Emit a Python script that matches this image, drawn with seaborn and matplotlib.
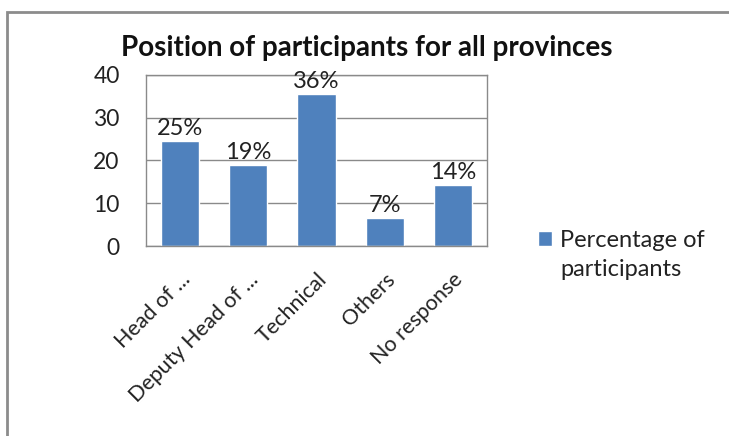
import pandas as pd
import matplotlib.pyplot as plt
import matplotlib.transforms as mtransforms
import seaborn as sns
from matplotlib.patches import Rectangle

# values
positions = ['Head of ...', 'Deputy Head of ...', 'Technical', 'Others', 'No response']
percentages = [24.5, 18.9, 35.5, 6.6, 14.2]
bar_labels = ['25%', '19%', '36%', '7%', '14%']
series_name = ['Percentage of', 'participants']

df = pd.DataFrame({'Position': positions, 'Percent': percentages})

sns.set_style('white')
plt.rcParams['font.family'] = ['Lato', 'DejaVu Sans']

fig = plt.figure(figsize=(7.29, 4.36), dpi=100)
ax = fig.add_axes([146 / 729, 190 / 436, 341 / 729, 171 / 436])

# outer frame of the chart object
fig.patches.append(Rectangle((7 / 729, -0.1), 1.2, (436 - 12) / 436 + 0.1,
                             transform=fig.transFigure, fill=False,
                             edgecolor='#8c8c8c', linewidth=2))

sns.barplot(data=df, x='Position', y='Percent', color='#4F81BD',
            width=0.56, saturation=1, ax=ax, label=series_name[0])

ax.set_ylim(0, 40)
ax.set_yticks([0, 10, 20, 30, 40])
ax.yaxis.grid(True, color='#8a8a8a', linewidth=1)
ax.set_axisbelow(True)
for s in ax.spines.values():
    s.set_color('#8a8a8a')
    s.set_linewidth(1)
ax.set_xlabel('')
ax.set_ylabel('')
ax.tick_params(axis='y', length=0, pad=19, labelsize=16.5, labelcolor='#222222')
ax.tick_params(axis='x', length=0, pad=8, labelsize=15.5, labelcolor='#222222')
shift = mtransforms.ScaledTranslation(0.0, -0.12, fig.dpi_scale_trans)
for t in ax.get_xticklabels():
    t.set_rotation(45)
    t.set_ha('right')
    t.set_rotation_mode('anchor')
    t.set_transform(t.get_transform() + shift)

for i, (v, lab) in enumerate(zip(percentages, bar_labels)):
    ax.text(i, v + 1.4, lab, ha='center', va='baseline', fontsize=17, color='#222222')

fig.text(367 / 729, 1 - 48 / 436, 'Position of participants for all provinces',
         ha='center', va='center', fontsize=20, fontweight='bold', color='#111111')

ax.legend(loc='center left', bbox_to_anchor=(538 / 729, 1 - 240 / 436),
          bbox_transform=fig.transFigure, frameon=False, borderpad=0,
          borderaxespad=0, fontsize=17, handlelength=0.6, handleheight=0.6,
          handletextpad=0.35, labelcolor='#222222')
fig.text(560 / 729, 1 - 270 / 436, series_name[1], ha='left', va='center',
         fontsize=17, color='#222222')

fig.savefig('out.png', dpi=100)
